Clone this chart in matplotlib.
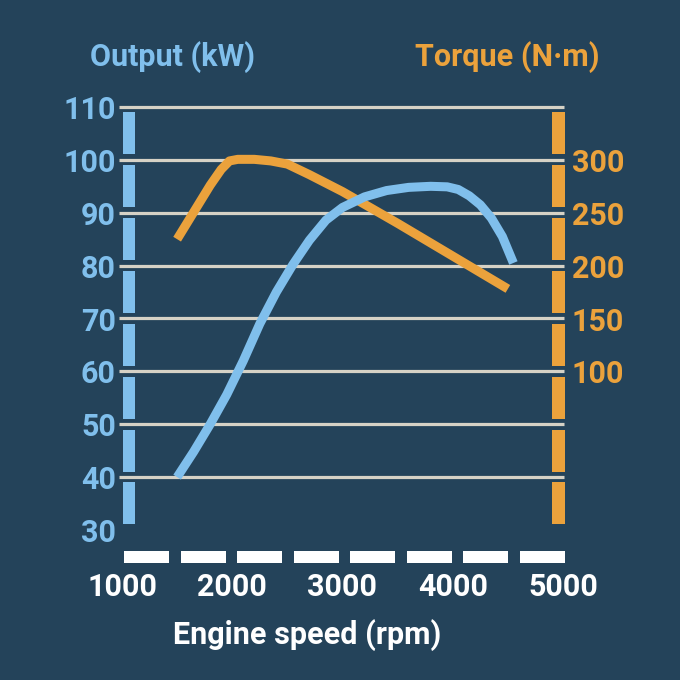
import matplotlib
matplotlib.use("Agg")
import matplotlib.pyplot as plt
from matplotlib.patches import Rectangle

# ---- data ----
rpm_output = [1500, 1650, 1800, 1950, 2100, 2250, 2400, 2550, 2700, 2850, 3000, 3200, 3400,
              3600, 3800, 3950, 4050, 4150, 4250, 4350, 4450, 4550]
output_kw = [40, 44.8, 50, 55.6, 62, 69, 75, 80.2, 84.8, 88.6, 91, 93, 94.2,
             94.8, 95, 94.9, 94.4, 93.2, 91.5, 89, 85.5, 80.5]

rpm_torque = [1500, 1600, 1700, 1800, 1900, 1975, 2050, 2200, 2350, 2500, 2700, 3000, 3500, 4000, 4500]
torque_nm = [225, 242, 259, 276, 291, 299, 300.5, 300.5, 299, 296, 286, 270, 240, 209, 178]

kw_ticks = [30, 40, 50, 60, 70, 80, 90, 100, 110]
torque_ticks = [100, 150, 200, 250, 300]
rpm_ticks = [1000, 2000, 3000, 4000, 5000]

# ---- style ----
BG = "#24435A"
BLUE = "#80BFEC"
ORANGE = "#EBA23C"
GRID = "#D6D2C6"
WHITE = "#FFFFFF"
FONT = ["Roboto", "DejaVu Sans"]
plt.rcParams["font.family"] = FONT

W = 680
fig = plt.figure(figsize=(6.8, 6.8), dpi=100, facecolor=BG)

def px2rpm(px):
    return 1000 + (px - 122) / 0.11025

def py2kw(py):
    return 30 + (530 - py) / 5.29

left_px, right_px = 119, 566
ax = fig.add_axes([left_px / W, (W - 530) / W, (right_px - left_px) / W, (530 - 107) / W])
ax.set_facecolor(BG)
ax.set_xlim(px2rpm(left_px), px2rpm(right_px))
ax.set_ylim(30, 110)
ax.axis("off")

def torque_to_kw(t):
    return 100 + (t - 300) / 5.0

# gridlines (40..110)
for v in kw_ticks[1:]:
    ax.plot([px2rpm(119), px2rpm(564)], [v, v], color=GRID, lw=2.3,
            solid_capstyle="butt", zorder=1, clip_on=False)

# left and right segmented axis bars
for v in kw_ticks[:-1]:
    lo, hi = v + 1.05, v + 9.0
    ax.add_patch(Rectangle((px2rpm(123.5), lo), px2rpm(135.5) - px2rpm(123.5), hi - lo,
                           color=BLUE, lw=0, zorder=2, clip_on=False))
    ax.add_patch(Rectangle((px2rpm(552.5), lo), px2rpm(564.5) - px2rpm(552.5), hi - lo,
                           color=ORANGE, lw=0, zorder=2, clip_on=False))

# bottom dashes
x0, x1 = 124, 565
gap = 11.6
seg = (x1 - x0 + gap) / 8
for i in range(8):
    a = x0 + i * seg
    b = a + seg - gap
    ax.add_patch(Rectangle((px2rpm(a), py2kw(562.7)), px2rpm(b) - px2rpm(a),
                           py2kw(550.7) - py2kw(562.7),
                           color=WHITE, lw=0, zorder=2, clip_on=False))

# curves
ax.plot(rpm_output, output_kw, color=BLUE, lw=6.5, solid_capstyle="butt",
        solid_joinstyle="round", zorder=4)
ax.plot(rpm_torque, [torque_to_kw(t) for t in torque_nm], color=ORANGE, lw=6.5,
        solid_capstyle="butt", solid_joinstyle="round", zorder=3)

FS = 22
def ftext(x, y, s, **kw):
    fig.text(x / W, 1 - y / W, s, fontsize=FS, fontweight="bold", **kw)

for v in kw_ticks:
    y = 107 + (110 - v) * 5.29
    ftext(116, y, str(v), color=BLUE, ha="right", va="center_baseline")
for t in torque_ticks:
    y = 107 + (110 - torque_to_kw(t)) * 5.29
    ftext(572, y, str(t), color=ORANGE, ha="left", va="center_baseline")
for r in rpm_ticks:
    ftext(122 + (r - 1000) * 0.11025, 584, str(r), color=WHITE, ha="center", va="center_baseline")

ftext(307, 632, "Engine speed (rpm)", color=WHITE, ha="center", va="center_baseline")
ftext(173, 54, "Output (kW)", color=BLUE, ha="center", va="center_baseline")
ftext(507, 54, "Torque (N·m)", color=ORANGE, ha="center", va="center_baseline")

fig.savefig("out.png", dpi=100, facecolor=BG)
